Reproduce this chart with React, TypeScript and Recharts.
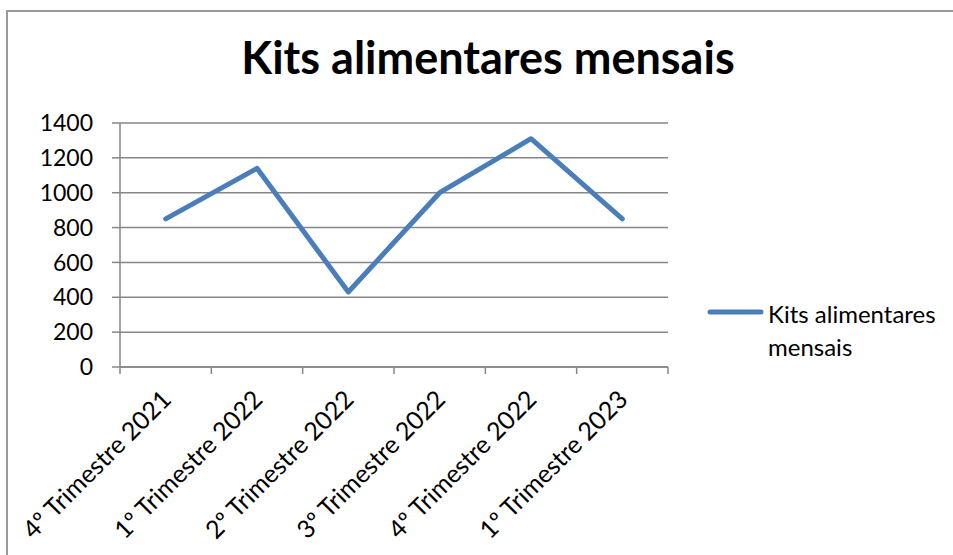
import React from 'react';
import { LineChart, Line, XAxis, YAxis, CartesianGrid, Legend } from 'recharts';

const categories = [
  '4º Trimestre 2021',
  '1º Trimestre 2022',
  '2º Trimestre 2022',
  '3º Trimestre 2022',
  '4º Trimestre 2022',
  '1º Trimestre 2023',
];
const kitsValues = [850, 1140, 430, 1000, 1310, 850];
const yTicks = [0, 200, 400, 600, 800, 1000, 1200, 1400];
const boundaryTicks = [0, 1, 2, 3, 4, 5, 6];
const seriesName = 'Kits alimentares mensais';
const title = 'Kits alimentares mensais';

const data = categories.map((q, i) => ({ q, kits: kitsValues[i] }));

const FONT = 'Lato, "Open Sans", sans-serif';
const GRID = '#868686';
const BLUE = '#4A7EBB';

const CatTick = (props: any) => {
  const { x, y, payload } = props;
  return (
    <g transform={`translate(${x + 7},${y + 33})`}>
      <text textAnchor="end" transform="rotate(-45)" fontFamily={FONT} fontSize={25} fill="#000">
        {payload.value}
      </text>
    </g>
  );
};

const EmptyTick = () => <g />;

const renderLegend = (props: any) => {
  const { payload } = props;
  return (
    <div>
      {(payload || []).map((entry: any, i: number) => (
        <div key={i} style={{ display: 'flex', alignItems: 'flex-start' }}>
          <svg width={66} height={30} style={{ flex: '0 0 auto' }}>
            <line x1={10} y1={15} x2={61} y2={15} stroke={entry.color} strokeWidth={5} strokeLinecap="round" />
          </svg>
          <div style={{ marginLeft: 2, width: 185, fontFamily: FONT, fontSize: 24, lineHeight: '33px', color: '#000' }}>
            {entry.value}
          </div>
        </div>
      ))}
    </div>
  );
};

export default function App() {
  return (
    <div style={{ position: 'absolute', left: 0, top: 0, width: 953, height: 555, overflow: 'hidden', background: '#fff' }}>
      <div
        style={{
          position: 'absolute',
          left: 6,
          top: 10,
          width: 1000,
          height: 600,
          border: '2px solid #999',
          boxSizing: 'border-box',
        }}
      />
      <div style={{ position: 'absolute', left: 0, top: 0 }}>
        <LineChart width={953} height={555} data={data} margin={{ top: 123, right: 285, bottom: 0, left: 0 }}>
          <CartesianGrid horizontal vertical={false} stroke={GRID} strokeWidth={1.5} xAxisId={1} />
          <XAxis
            xAxisId={0}
            dataKey="q"
            type="number"
            domain={[0, 6]}
            ticks={boundaryTicks}
            interval={0}
            tick={<EmptyTick />}
            tickSize={7}
            height={1}
            allowDataOverflow
            axisLine={{ stroke: GRID, strokeWidth: 1.5 }}
            tickLine={{ stroke: GRID, strokeWidth: 1.5 }}
          />
          <XAxis
            xAxisId={1}
            dataKey="q"
            type="category"
            padding={{ left: 45.67, right: 45.67 }}
            height={187}
            axisLine={false}
            tickLine={false}
            tickSize={0}
            tickMargin={0}
            interval={0}
            tick={<CatTick />}
          />
          <YAxis
            type="number"
            domain={[0, 1400]}
            ticks={yTicks}
            interval={0}
            width={120}
            tickSize={8}
            tickMargin={19}
            axisLine={{ stroke: GRID, strokeWidth: 1.5 }}
            tickLine={{ stroke: GRID, strokeWidth: 1.5 }}
            tick={{ fontFamily: FONT, fontSize: 23, fill: '#000' }}
          />
          <Line
            xAxisId={1}
            type="linear"
            dataKey="kits"
            name={seriesName}
            stroke={BLUE}
            strokeWidth={5}
            strokeLinecap="round"
            strokeLinejoin="round"
            dot={false}
            activeDot={false}
            isAnimationActive={false}
          />
          <Legend
            layout="vertical"
            align="center"
            verticalAlign="middle"
            content={renderLegend}
            wrapperStyle={{ position: 'absolute', left: 700, top: 297, width: 260 }}
          />
        </LineChart>
      </div>
      <div
        style={{
          position: 'absolute',
          left: 0,
          top: 34,
          width: 976,
          textAlign: 'center',
          fontFamily: FONT,
          fontWeight: 'bold',
          fontSize: 45,
          lineHeight: '46px',
          color: '#000',
        }}
      >
        {title}
      </div>
    </div>
  );
}
